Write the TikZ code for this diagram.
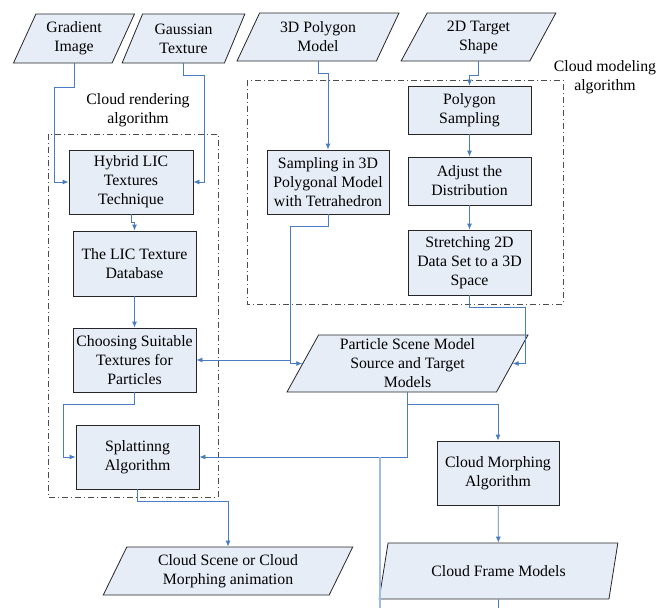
\documentclass[tikz,border=0pt]{standalone}
\usepackage{fontspec}
\setmainfont{Liberation Serif}
\usepackage{xcolor}
\usetikzlibrary{shapes.geometric}
\usetikzlibrary{arrows.meta}

\definecolor{flowblue}{RGB}{74,124,194}
\definecolor{faintblue}{RGB}{160,186,224}
\definecolor{boxfill}{RGB}{231,237,247}

\tikzset{
  every node/.style={font=\rmfamily\fontsize{15.8pt}{19pt}\selectfont, align=center},
  proc/.style={draw=black!85, fill=boxfill, line width=0.8pt, rectangle, inner sep=0pt},
  data/.style={draw=black!85, fill=boxfill, line width=0.8pt, trapezium,
    trapezium left angle=64, trapezium right angle=116, trapezium stretches=true, inner sep=0pt},
  link/.style={draw=flowblue, line width=0.8pt, -{Latex[length=6pt,width=5pt]}},
  faint/.style={draw=faintblue, line width=1.2pt},
  group/.style={draw=black!70, line width=0.8pt, dash pattern=on 6pt off 3pt on 1pt off 3pt}
}

\begin{document}
\begin{tikzpicture}[x=1pt,y=-1pt]
\useasboundingbox (0,0) rectangle (657,608);
% dash-dot groups
\draw[group] (48,134) rectangle (218,497);
\draw[group] (247,80) rectangle (563,304);
\node at (138,110) {Cloud rendering\\algorithm};
\node at (605,77) {Cloud modeling\\algorithm};

% inputs
\node[data, minimum width=122pt, minimum height=49pt] (grad) at (74,38.5) {Gradient\\Image};
\node[data, minimum width=123pt, minimum height=49pt] (gauss) at (183.5,38.5) {Gaussian\\Texture};
\node[data, minimum width=162pt, minimum height=48pt] (poly3d) at (318,37) {3D Polygon\\Model};
\node[data, minimum width=155pt, minimum height=48pt] (target2d) at (478.5,37) {2D Target\\Shape};

% rendering
\node[proc, minimum width=124pt, minimum height=64pt] (hybrid) at (131,182) {Hybrid LIC\\Textures\\Technique};
\node[proc, minimum width=123pt, minimum height=65pt] (licdb) at (134.5,263.5) {The LIC Texture\\Database};
\node[proc, minimum width=123pt, minimum height=64pt] (choose) at (134.5,360) {Choosing Suitable\\Textures for\\Particles};
\node[proc, minimum width=123pt, minimum height=64pt] (splat) at (137.5,457) {Splattinng\\Algorithm};

% modeling
\node[proc, minimum width=122pt, minimum height=64pt] (samp3d) at (328,182) {Sampling in 3D\\Polygonal Model\\with Tetrahedron};
\node[proc, minimum width=123pt, minimum height=48pt] (polysamp) at (469.5,110) {Polygon\\Sampling};
\node[proc, minimum width=123pt, minimum height=48pt] (adjust) at (469.5,181) {Adjust the\\Distribution};
\node[proc, minimum width=123pt, minimum height=65pt] (stretch) at (469.5,262.5) {Stretching 2D\\Data Set to a 3D\\Space};

% scene and outputs
\node[data, minimum width=241pt, minimum height=57pt] (part) at (407.5,363.5) {Particle Scene Model\\Source and Target\\Models};
\node[proc, minimum width=122pt, minimum height=64pt] (morph) at (498,473) {Cloud Morphing\\Algorithm};
\node[data, minimum width=239pt, minimum height=56pt] (frame) at (498.5,571) {Cloud Frame Models};
\node[data, minimum width=250pt, minimum height=48pt] (scene) at (228,571) {Cloud Scene or Cloud\\Morphing animation};

\coordinate (jn) at ([xshift=-12pt]part.west |- choose.east);
\coordinate (outA) at (380,457);
\coordinate (endA) at (380,608);
\coordinate (endB) at (498.5,608);

\draw[link] (grad.south) -- ++(0,24) -| ([xshift=-14pt]hybrid.west) -- (hybrid.west);
\draw[link] (gauss.south) -- ++(0,12) -| ([xshift=11pt]hybrid.east) -- (hybrid.east);
\draw[link] (poly3d.south) -- ++(0,12) -| (samp3d.north);
\draw[link] (target2d.south) -- ++(0,14) -| (polysamp.north);
\draw[link] (polysamp) -- (adjust);
\draw[link] (adjust) -- (stretch);
\draw[link] (stretch.south) -- ++(0,12) -| ([xshift=13pt]part.east) -- (part.east);
\draw[link] (samp3d.south) -- ++(0,12) -| ([xshift=-12pt]part.west) -- (part.west);
\draw[link] (jn) -- (choose.east);
\draw[link] (hybrid.south) -- ++(0,8) -| (licdb.north);
\draw[link] (licdb) -- (choose);
\draw[link] (choose.south) -- ++(0,12) -| ([xshift=-12pt]splat.west) -- (splat.west);
\draw[link] (part.south) -- ++(0,12) -| (morph.north);
\draw[link] (part.south) |- (splat.east);
\draw[faint] (outA) -- (endA);
\draw[link] (morph) -- (frame);
\draw[flowblue, line width=0.8pt] (frame.south) -- (endB);
\draw[link] (splat.south) -- ++(0,12) -| (scene.north);
\end{tikzpicture}
\end{document}
